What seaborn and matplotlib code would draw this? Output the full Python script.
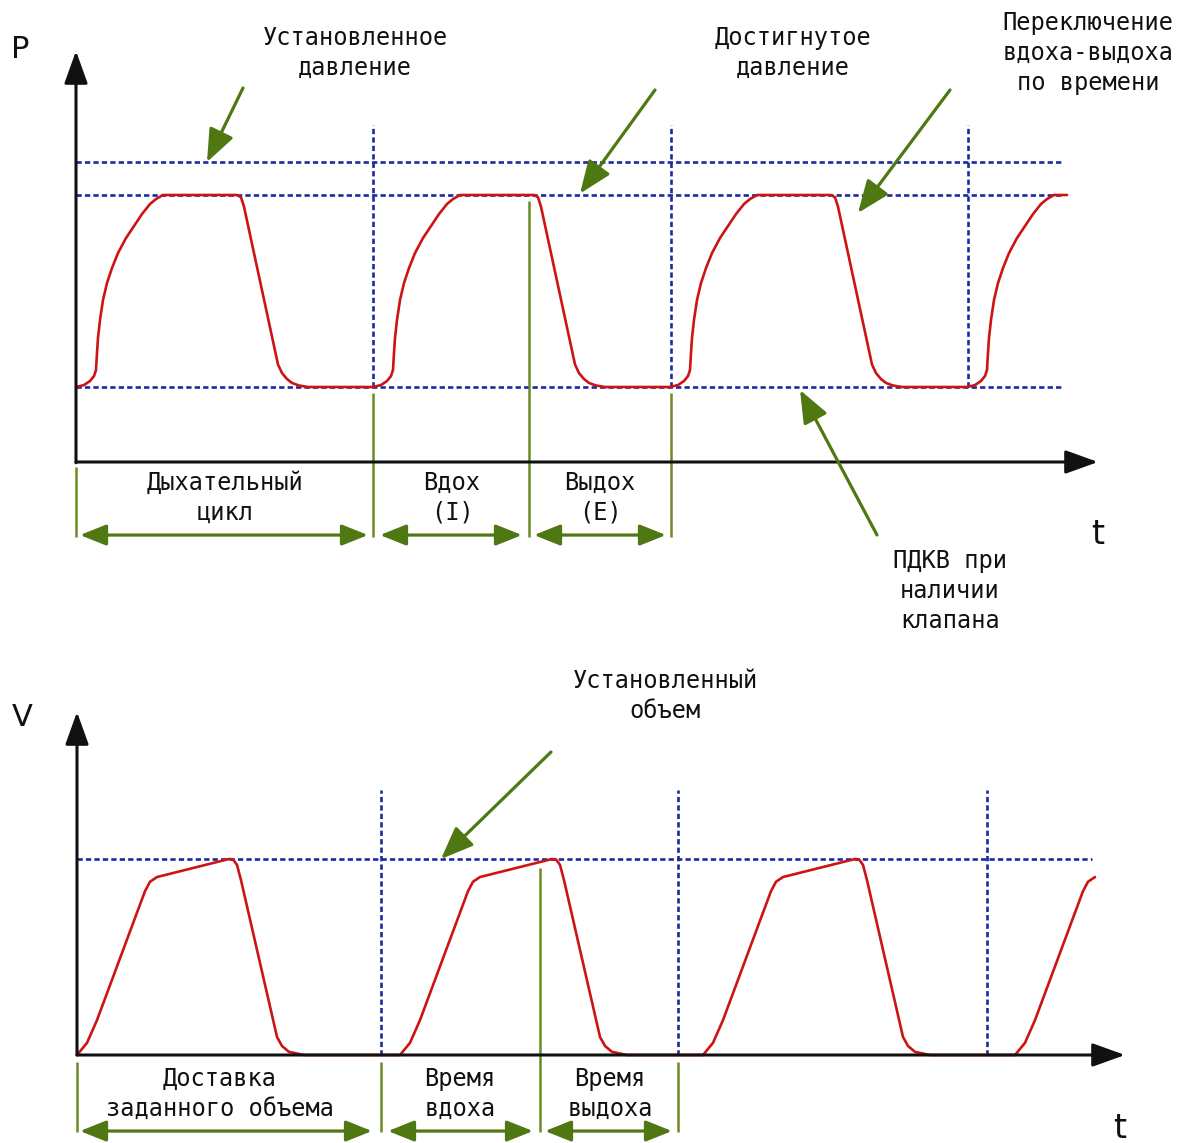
import numpy as np
import pandas as pd
import matplotlib
matplotlib.use("Agg")
import matplotlib.pyplot as plt
import seaborn as sns

# ---------------- data ----------------
# Pressure-controlled panel: time in s, pressure in cmH2O
p_cycle_starts = [0.0, 2.97, 5.94, 8.91]
p_last_cut = 1.00
p_tmpl_t = [0.00, 0.08, 0.14, 0.18, 0.20, 0.21, 0.22, 0.24, 0.27, 0.31, 0.36, 0.42,
            0.50, 0.58, 0.66, 0.74, 0.80, 0.87, 1.00, 1.61, 1.65, 1.68, 2.02, 2.06,
            2.11, 2.16, 2.23, 2.32]
p_tmpl_v = [5.00, 5.13, 5.40, 5.73, 6.13, 7.27, 8.27, 9.47, 10.80, 11.93, 12.93, 13.93,
            14.93, 15.73, 16.53, 17.20, 17.53, 17.80, 17.80, 17.80, 17.65, 17.02, 6.50, 5.93,
            5.53, 5.27, 5.10, 5.00]
p_set = 20.0
p_reached = 17.8
p_peep = 5.0
p_cycle_marks = [2.97, 5.95, 8.92]
p_ti_end = 4.53
p_ref_end = 9.87

# Volume-controlled panel: time in s, volume in mL
v_cycle_starts = [0.0, 3.23, 6.26, 9.38]
v_last_cut = 0.80
v_tmpl_t = [0.00, 0.10, 0.20, 0.68, 0.73, 0.80, 1.52, 1.56, 1.60, 1.64, 2.00, 2.05, 2.12, 2.27]
v_tmpl_v = [0, 31, 89, 418, 442, 454, 500, 499, 485, 446, 46, 23, 8, 0]
v_set = 500.0
v_cycle_marks = [3.04, 6.01, 9.10]
v_ti_end = 4.63
v_ref_end = 10.15

# ---------------- build series ----------------
def build(starts, tt, vv, cut):
    xs, ys = [], []
    for i, s in enumerate(starts):
        for t, v in zip(tt, vv):
            if i == len(starts) - 1 and t > cut:
                break
            xs.append(s + t)
            ys.append(v)
    return pd.DataFrame({"t": xs, "val": ys})

p_df = build(p_cycle_starts, p_tmpl_t, p_tmpl_v, p_last_cut)
v_df = build(v_cycle_starts, v_tmpl_t, v_tmpl_v, v_last_cut)

# ---------------- style ----------------
sns.set_theme(style="white")
plt.rcParams["font.family"] = ["DejaVu Sans Mono", "DejaVu Sans"]

W, H = 1178, 1143
fig = plt.figure(figsize=(W / 100, H / 100), dpi=100)
fig.patch.set_facecolor("white")

RED = "#cc1414"
BLUE = "#1c2a9c"
GREEN = "#4f7812"
GREEN_L = "#6b8a25"
BLACK = "#111111"
FS = 17


def make_axes(label, ox, oy, sx, sy):
    ax = fig.add_axes([0, 0, 1, 1], label=label)
    ax.set_xlim((0 - ox) / sx, (W - ox) / sx)
    ax.set_ylim((oy - H) / sy, (oy - 0) / sy)
    ax.axis("off")
    ax.patch.set_alpha(0)
    return ax


axP = make_axes("p", 76, 462, 100.0, 15.0)
axV = make_axes("v", 77, 1055, 100.0, 0.392)


def fig_text(x, y, s, size=FS, family=None, **kw):
    kw.setdefault("ha", "center")
    kw.setdefault("va", "center")
    if family is not None:
        kw["family"] = family
    fig.text(x / W, 1 - y / H, s, fontsize=size, color=BLACK, linespacing=1.3, **kw)


def axis_arrow(ax, x0, y0, x1, y1):
    ax.annotate("", xy=(x1, y1), xytext=(x0, y0),
                arrowprops=dict(arrowstyle="-|>,head_length=1.0,head_width=0.36",
                                mutation_scale=20, lw=2.2, color=BLACK,
                                shrinkA=0, shrinkB=0))


def pointer(ax, tip, tail_px):
    ax.annotate("", xy=tip, xycoords="data",
                xytext=(tail_px[0], H - tail_px[1]), textcoords="figure pixels",
                arrowprops=dict(arrowstyle="-|>,head_length=1.0,head_width=0.4",
                                mutation_scale=20, lw=2.3, color=GREEN,
                                shrinkA=0, shrinkB=0))


def span(ax, x0, x1, y):
    ax.annotate("", xy=(x1, y), xytext=(x0, y),
                arrowprops=dict(arrowstyle="<|-|>,head_length=1.0,head_width=0.4",
                                mutation_scale=16, lw=2.3, color=GREEN,
                                shrinkA=0, shrinkB=0))


dash = (0, (2.0, 1.2))

# ---------------- pressure panel ----------------
axP.hlines([p_set, p_reached, p_peep], 0, p_ref_end, colors=BLUE, lw=1.9, linestyles=[dash])
axP.vlines(p_cycle_marks, p_peep, 22.5, colors=BLUE, lw=1.9, linestyles=[dash])
sns.lineplot(data=p_df, x="t", y="val", ax=axP, color=RED, lw=1.9,
             sort=False, estimator=None, legend=False)
axis_arrow(axP, 0, -0.05, 0, 27.4)
axis_arrow(axP, 0, 0, 10.22, 0)

axP.vlines([0.0], -0.3, -5.0, colors=GREEN_L, lw=1.8)
axP.vlines([p_cycle_marks[0], p_cycle_marks[1]], 4.6, -5.0, colors=GREEN_L, lw=1.8)
axP.vlines([p_ti_end], 17.4, -5.0, colors=GREEN_L, lw=1.8)
span(axP, 0.04, 2.92, -4.87)
span(axP, 3.04, 4.46, -4.87)
span(axP, 4.58, 5.90, -4.87)

pointer(axP, (1.31, p_set), (243, 88))
pointer(axP, (5.04, p_reached + 0.1), (655, 90))
pointer(axP, (7.82, 16.6), (950, 90))
pointer(axP, (7.24, 4.8), (877, 535))

fig_text(20, 50, "P", size=22, family="DejaVu Sans")
fig_text(1098, 535, "t", size=24, family="DejaVu Sans")
fig_text(355, 53, "Установленное\nдавление")
fig_text(793, 53, "Достигнутое\nдавление")
fig_text(1088, 53, "Переключение\nвдоха-выдоха\nпо времени")
fig_text(225, 498, "Дыхательный\nцикл")
fig_text(452, 498, "Вдох\n(I)")
fig_text(600, 498, "Выдох\n(E)")
fig_text(950, 591, "ПДКВ при\nналичии\nклапана")

# ---------------- volume panel ----------------
axV.hlines([v_set], 0, v_ref_end, colors=BLUE, lw=1.9, linestyles=[dash])
axV.vlines(v_cycle_marks, 0, 676, colors=BLUE, lw=1.9, linestyles=[dash])
axis_arrow(axV, 0, 0, 0, 875)
axis_arrow(axV, 0, 0, 10.48, 0)
sns.lineplot(data=v_df, x="t", y="val", ax=axV, color=RED, lw=1.9,
             sort=False, estimator=None, legend=False)

axV.vlines([0.0, v_cycle_marks[0], v_cycle_marks[1]], -18, -196, colors=GREEN_L, lw=1.8)
axV.vlines([v_ti_end], 477, -196, colors=GREEN_L, lw=1.8)
span(axV, 0.03, 2.95, -194)
span(axV, 3.11, 4.56, -194)
span(axV, 4.68, 5.95, -194)

pointer(axV, (3.64, v_set), (551, 752))

fig_text(22, 718, "V", size=22, family="DejaVu Sans")
fig_text(1120, 1128, "t", size=24, family="DejaVu Sans")
fig_text(665, 696, "Установленный\nобъем")
fig_text(220, 1094, "Доставка\nзаданного объема")
fig_text(460, 1094, "Время\nвдоха")
fig_text(610, 1094, "Время\nвыдоха")

fig.savefig("out.png", dpi=100, facecolor="white")
